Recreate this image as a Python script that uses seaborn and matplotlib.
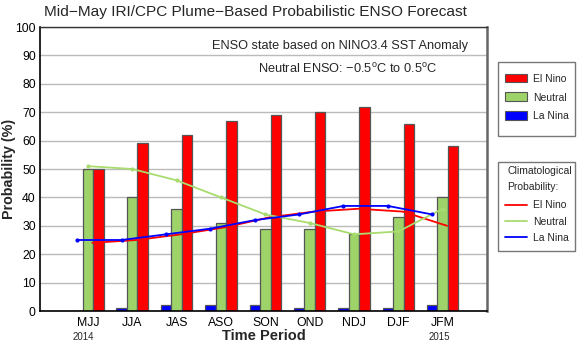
import matplotlib
matplotlib.use("Agg")
import matplotlib.pyplot as plt
from matplotlib.patches import Patch, Rectangle
from matplotlib.lines import Line2D
import seaborn as sns
import numpy as np
import pandas as pd

periods = ["MJJ", "JJA", "JAS", "ASO", "SON", "OND", "NDJ", "DJF", "JFM"]
el_nino = [50, 59, 62, 67, 69, 70, 72, 66, 58]
neutral = [50, 40, 36, 31, 29, 29, 27, 33, 40]
la_nina = [0, 1, 2, 2, 2, 1, 1, 1, 2]
clim_el_nino = [24, 25, 27, 29.5, 33, 35, 36, 35, 30]
clim_neutral = [51, 50, 46, 40, 34, 31, 27, 28, 36]
clim_la_nina = [25, 25, 27, 29, 32, 34, 37, 37, 34]
years = ["2014", "2015"]

sns.set_theme(style="white")
plt.rcParams['font.family'] = ['Liberation Sans', 'DejaVu Sans']
plt.rcParams['mathtext.fontset'] = 'custom'
plt.rcParams['mathtext.rm'] = 'Liberation Sans'

RED = "#FF0000"
GREEN_BAR = "#9ED36A"
BLUE = "#0000FF"
GREEN_LINE = "#A8DC6E"

df = pd.DataFrame({
    "period": periods * 3,
    "state": ["La Nina"] * 9 + ["Neutral"] * 9 + ["El Nino"] * 9,
    "prob": la_nina + neutral + el_nino,
})

W, H = 577, 342
fig = plt.figure(figsize=(5.77, 3.42), dpi=100)
ax = fig.add_axes([40 / W, 1 - 311 / H, (487 - 40) / W, (311 - 27) / H])

bw = 0.71
sns.barplot(data=df, x="period", y="prob", hue="state",
            hue_order=["La Nina", "Neutral", "El Nino"],
            palette={"La Nina": BLUE, "Neutral": GREEN_BAR, "El Nino": RED},
            width=bw, dodge=True, gap=0, edgecolor="#555555", linewidth=0.9,
            saturation=1, legend=False, ax=ax, zorder=2)

xs = np.arange(len(periods))
off = bw / 3
sns.lineplot(x=xs + 0.1, y=clim_el_nino, color=RED, lw=1.3, ax=ax, zorder=3)
sns.lineplot(x=xs, y=clim_neutral, color=GREEN_LINE, lw=1.3, marker="o",
             markersize=3, markeredgewidth=0, ax=ax, zorder=3)
sns.lineplot(x=xs - off, y=clim_la_nina, color=BLUE, lw=1.3, marker="o",
             markersize=3, markeredgewidth=0, ax=ax, zorder=3)

ax.set_xlim(-1.08, 9.0)
ax.set_ylim(0, 100)
ax.set_yticks(np.arange(0, 101, 10))
ax.yaxis.grid(True, color="#BBBBBB", lw=1, zorder=0)
ax.set_axisbelow(True)
ax.tick_params(axis="both", length=0, labelsize=8.8, colors="black")
ax.tick_params(axis="x", pad=4)
ax.tick_params(axis="y", pad=3)
for s in ["left", "bottom"]:
    ax.spines[s].set_color("black")
    ax.spines[s].set_linewidth(1.2)
ax.spines["top"].set_color("#333333")
ax.spines["top"].set_linewidth(1.0)
ax.spines["right"].set_color("#666666")
ax.spines["right"].set_linewidth(1.8)

ax.set_xlabel("Time Period", fontsize=10.5, fontweight="bold", labelpad=0)
ax.set_ylabel("Probability (%)", fontsize=10.3, fontweight="bold", va="center")
ax.yaxis.set_label_coords((9.5 - 40) / 447, 0.5)

trans = ax.get_xaxis_transform()
ax.text(xs[0] - 0.1, -0.075, years[0], transform=trans, ha="center", va="top", fontsize=7)
ax.text(xs[-1] - 0.07, -0.075, years[1], transform=trans, ha="center", va="top", fontsize=7)

fig.text(255 / W, 1 - 12 / H, "Mid\u2212May IRI/CPC Plume\u2212Based Probabilistic ENSO Forecast",
         ha="center", va="center", fontsize=11.1)
fig.text(340 / W, 1 - 46 / H, "ENSO state based on NINO3.4 SST Anomaly",
         ha="center", va="center", fontsize=9.2)
fig.text(348 / W, 1 - 69 / H, "Neutral ENSO: \u22120.5$^{\\rm o}$C to 0.5$^{\\rm o}$C",
         ha="center", va="center", fontsize=9.2)

# legend boxes
for (x0, y0, x1, y1) in [(498, 62, 575, 136), (498, 162, 575, 251)]:
    fig.add_artist(Rectangle((x0 / W, 1 - y1 / H), (x1 - x0) / W, (y1 - y0) / H,
                             transform=fig.transFigure, fill=False,
                             edgecolor="#777777", lw=1.0))

h1 = [Patch(facecolor=RED, edgecolor="#555555", lw=0.8, label="El Nino"),
      Patch(facecolor=GREEN_BAR, edgecolor="#555555", lw=0.8, label="Neutral"),
      Patch(facecolor=BLUE, edgecolor="#555555", lw=0.8, label="La Nina")]
leg1 = fig.legend(handles=h1, loc="upper left", bbox_to_anchor=(505 / W, 1 - 73.5 / H),
                  fontsize=7.5, frameon=False,
                  handlelength=2.1, handleheight=0.95, handletextpad=0.6,
                  labelspacing=0.85, borderpad=0, borderaxespad=0)

fig.text(507 / W, 1 - 171 / H, "Climatological", ha="left", va="center", fontsize=7.5)
fig.text(507 / W, 1 - 187 / H, "Probability:", ha="left", va="center", fontsize=7.5)

h2 = [Line2D([], [], color=RED, lw=1.3, label="El Nino"),
      Line2D([], [], color=GREEN_LINE, lw=1.3, label="Neutral"),
      Line2D([], [], color=BLUE, lw=1.3, label="La Nina")]
leg2 = fig.legend(handles=h2, loc="upper left", bbox_to_anchor=(505 / W, 1 - 200.5 / H),
                  fontsize=7.5, frameon=False,
                  handlelength=2.1, handletextpad=0.6, labelspacing=0.6,
                  borderpad=0, borderaxespad=0)

fig.savefig("out.png", dpi=100)
